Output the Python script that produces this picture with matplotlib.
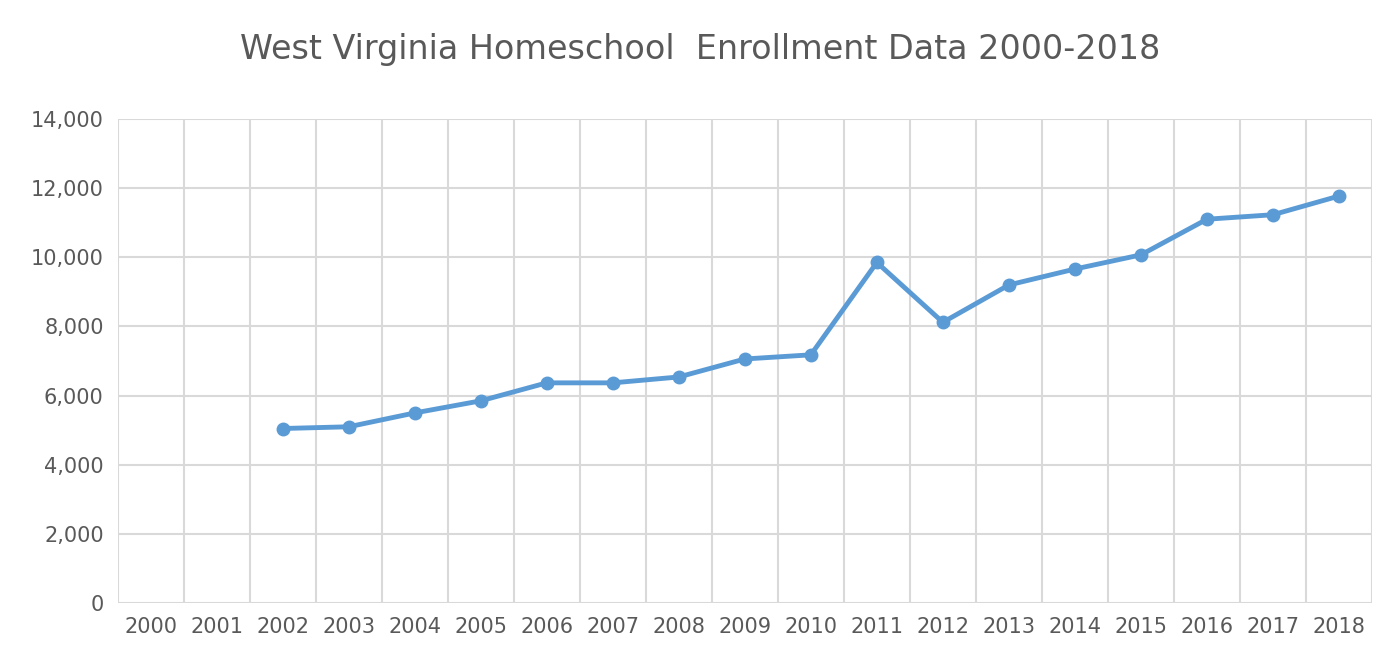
import matplotlib.pyplot as plt
from matplotlib.ticker import FuncFormatter, MultipleLocator

years = [str(y) for y in range(2000, 2019)]
enroll_years = list(range(2002, 2019))
enrollment = [5050, 5100, 5500, 5850, 6370, 6370, 6540, 7060, 7180,
              9850, 8120, 9200, 9660, 10070, 11100, 11230, 11770]

fig, ax = plt.subplots(figsize=(14, 6.68), dpi=100)
fig.subplots_adjust(left=0.084, right=0.98, top=0.822, bottom=0.097)

x = [y - 2000 for y in enroll_years]
ax.plot(x, enrollment, color='#5b9bd5', lw=3.5, marker='o', ms=9)

ax.set_xlim(-0.5, len(years) - 0.5)
ax.set_ylim(0, 14000)
ax.set_xticks(range(len(years)))
ax.set_xticklabels(years)
ax.set_xticks([i - 0.5 for i in range(len(years) + 1)], minor=True)
ax.yaxis.set_major_locator(MultipleLocator(2000))
ax.yaxis.set_major_formatter(FuncFormatter(lambda v, p: f'{int(v):,}'))

ax.grid(True, axis='y', which='major', color='#d9d9d9', lw=1.5)
ax.grid(True, axis='x', which='minor', color='#d9d9d9', lw=1.5)
ax.set_axisbelow(True)
for s in ax.spines.values():
    s.set_visible(False)
ax.tick_params(axis='both', which='both', length=0, labelsize=15, colors='#595959', pad=10)

fig.suptitle('West Virginia Homeschool  Enrollment Data 2000-2018', fontsize=24,
             color='#595959', y=0.95)

plt.savefig('out.png')
